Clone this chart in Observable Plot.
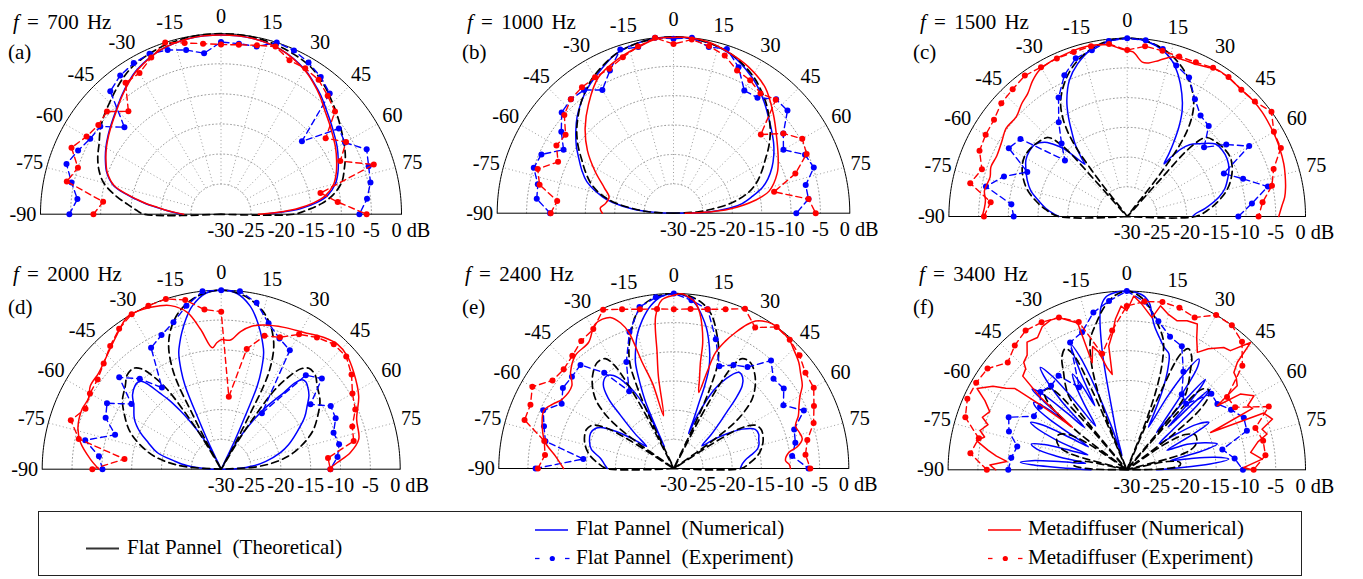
<!DOCTYPE html>
<html>
<head>
<meta charset="utf-8">
<script src="https://cdn.jsdelivr.net/npm/d3@7"></script>
<script src="https://cdn.jsdelivr.net/npm/@observablehq/plot@0.6"></script>
<style>
  html, body { margin: 0; padding: 0; background: #fff; }
  #wrap { position: relative; width: 1363px; height: 579px; overflow: hidden; color: #000; }
  .panel { position: absolute; }
  .ttl { position: absolute; white-space: pre; }
  #legend { position: absolute; left: 38px; top: 511px; width: 1264px; height: 65px; box-sizing: border-box; border: 1.5px solid #222; }
  .lt { position: absolute; white-space: pre; }
  #legsvg { position: absolute; left: 0; top: 0; }
</style>
</head>
<body>
<div id="wrap"></div>
<script>
// ---------------- data ----------------
const EXP_ANGLES = [-90,-84,-78,-72,-66,-60,-54,-48,-42,-36,-30,-24,-18,-12,-6,0,6,12,18,24,30,36,42,48,54,60,66,72,78,84,90];
const ANGLE_TICKS = [-90,-75,-60,-45,-30,-15,0,15,30,45,60,75];
const RADIAL_TICKS = [-30,-25,-20,-15,-10,-5];
const RINGS = [-25,-20,-15,-10,-5];
const SPOKES = [-75,-60,-45,-30,-15,0,15,30,45,60,75];
const FREQS = [700, 1000, 1500, 2000, 2400, 3400];
const PANEL_LABELS = ["(a)","(b)","(c)","(d)","(e)","(f)"];
const SERIES_NAMES = ["Flat Pannel  (Theoretical)","Flat Pannel  (Numerical)","Flat Pannel  (Experiment)","Metadiffuser (Numerical)","Metadiffuser (Experiment)"];

// (a) 700 Hz
const a_theory = [[-90,-30],[-90,-17.2],[-87,-15.8],[-84,-14.4],[-80,-12.2],[-75,-9.8],[-70,-8.4],[-65,-7.4],[-60,-6.6],[-55,-5.5],[-50,-4.6],[-45,-3.8],[-40,-2.9],[-35,-2.0],[-30,-1.3],[-20,-0.5],[-10,-0.1],[0,0],[10,-0.1],[20,-0.5],[30,-1.2],[35,-1.9],[40,-2.8],[45,-3.8],[50,-4.7],[55,-5.6],[60,-6.4],[65,-7.2],[70,-8.2],[75,-9.2],[80,-11.0],[84,-13.2],[87,-15.5],[90,-17.9],[90,-30]];
const a_flatNum = [[-90,-23.5],[-88,-22.2],[-86,-20.8],[-84,-19.2],[-82,-17.3],[-80,-15.6],[-78,-13.8],[-75,-11.5],[-70,-9.8],[-65,-8.8],[-60,-7.9],[-55,-7.1],[-50,-6.3],[-45,-5.4],[-40,-4.3],[-35,-3.2],[-30,-2.2],[-20,-0.9],[-10,-0.3],[0,-0.2],[10,-0.3],[20,-0.9],[30,-2.2],[35,-3.2],[40,-4.2],[45,-5.3],[50,-6.2],[55,-7.0],[60,-7.7],[65,-8.5],[70,-9.3],[75,-10.3],[80,-12.0],[83,-13.9],[86,-16.8],[88,-19.8],[90,-22.8]];
const a_metaNum = [[-90,-23.8],[-88,-22.5],[-86,-21],[-84,-19.5],[-82,-17.5],[-80,-15.8],[-78,-14.0],[-75,-11.6],[-70,-9.9],[-65,-8.9],[-60,-8.0],[-55,-7.2],[-50,-6.4],[-45,-5.5],[-40,-4.4],[-35,-3.3],[-30,-2.3],[-20,-0.9],[-10,-0.3],[0,-0.2],[10,-0.3],[20,-0.9],[30,-2.3],[35,-3.3],[40,-4.4],[45,-5.6],[50,-6.5],[55,-7.3],[60,-8.0],[65,-8.8],[70,-9.6],[75,-10.6],[80,-12.4],[83,-14.5],[86,-17.5],[88,-20.5],[90,-23.8]];
const a_flatExp = [-4.8,-6.0,-4.6,-3.0,-4.0,-4.9,-5.2,-8.4,-2.5,-1.5,-1.0,-0.8,-1.3,-2.1,-3.1,-1.4,-1.5,-1.5,0,-0.2,-0.9,-1.8,-3.0,-11.9,-5.8,-6.2,-3.5,-4.2,-4.6,-5.6,-7.0];
const a_metaExp = [-8.8,-10.3,-3.8,-5.0,-2.8,-4.2,-4.8,-4.5,-7.0,-3.0,-2.9,-1.5,0,-0.9,-1.5,-1.8,-1.7,-1.3,-0.7,-2.0,-2.0,-2.4,-3.5,-4.5,-8.5,-6.0,-8.3,-3.3,-13.1,-10.5,-5.8];

// (b) 1000 Hz
const b_theory = [[-90,-30],[-87,-26],[-84,-23.5],[-80,-20],[-75,-17],[-70,-15],[-65,-13.5],[-60,-12],[-55,-10.2],[-50,-8.5],[-45,-7],[-40,-5.5],[-35,-4.2],[-30,-3.0],[-20,-1.2],[-10,-0.3],[0,0],[10,-0.3],[20,-1.2],[30,-3.0],[35,-4.2],[40,-5.5],[45,-7],[50,-8.5],[55,-10.2],[60,-12],[65,-13.5],[70,-15],[75,-17],[80,-20],[84,-23.5],[87,-26],[90,-30]];
const b_flatNum = [[-90,-30],[-87,-26.5],[-84,-23],[-80,-19.5],[-77,-17.6],[-70,-14.3],[-65,-12.8],[-60,-11.4],[-55,-9.8],[-50,-8.3],[-45,-6.8],[-40,-5.5],[-35,-4.3],[-30,-3.3],[-20,-1.2],[-10,-0.3],[0,0],[10,-0.3],[20,-1.3],[30,-3.3],[35,-4.5],[40,-5.8],[45,-7.1],[50,-8.2],[55,-9.2],[60,-10.3],[65,-11.5],[70,-12.9],[74,-14.3],[78,-16.3],[82,-18.2],[85,-20.5],[88,-24],[90,-30]];
const b_metaNum = [[-90,-17.9],[-86,-17.5],[-82,-18.3],[-76,-18.7],[-70,-17.5],[-62,-14.9],[-54,-11.9],[-46,-9.1],[-38,-6.5],[-29,-3.6],[-19,-2.0],[-10,-0.8],[-5,-0.1],[0,-0.1],[5,0],[12,-0.3],[20,-1.2],[27,-2.0],[36,-3.5],[45,-6.0],[55,-8.5],[63,-10.0],[69,-11.1],[77,-13.3],[81,-15.9],[86,-20.6],[88,-24],[90,-28]];
const b_flatExp = [-9.0,-6.6,-6.4,-5.0,-5.4,-8.4,-6.4,-4.4,-3.9,-4.1,-5.8,-3.4,-0.7,-1.1,0,-0.3,0,-1.1,-0.6,-2.8,-5.9,-5.7,-3.9,-3.9,-6.9,-8.4,-5.5,-4.9,-7.0,-6.9,-9.1];
const b_metaExp = [-9.1,-10.1,-6.7,-5.7,-8.5,-7.0,-7.3,-5.0,-3.9,-3.5,-3.3,-3.1,-2.1,-1.0,0,-1.2,-0.3,-0.9,-1.8,-3.4,-3.9,-4.8,-4.0,-10.0,-6.9,-4.7,-5.2,-8.2,-12.5,-6.9,-5.8];

// (c) 1500 Hz
const c_theory = [[-90,-30],[-90,-18.5],[-85,-16.2],[-80,-14.3],[-75,-12.6],[-70,-11.4],[-65,-10.5],[-60,-10.0],[-55,-10.1],[-50,-10.5],[-45,-11.2],[-42.5,-14],[-41.8,-22],[-40,-30],[-38,-23],[-37.3,-19],[-36.5,-15.5],[-35,-12.5],[-33,-10],[-30,-7.6],[-25,-5.1],[-20,-3.2],[-15,-1.8],[-10,-0.8],[-5,-0.2],[0,0],[5,-0.2],[10,-0.8],[15,-1.8],[20,-3.2],[25,-5.1],[30,-7.6],[33,-10],[35,-12.5],[36.5,-15.5],[37.3,-19],[38,-23],[40,-30],[41.8,-22],[42.5,-14],[45,-11.2],[50,-10.5],[55,-10.1],[60,-10.0],[65,-10.5],[70,-11.4],[75,-12.6],[80,-14.3],[85,-16.2],[90,-18.5],[90,-30]];
const c_flatNum = [[-90,-18.5],[-85,-16.5],[-80,-14.9],[-75,-13.2],[-70,-12.1],[-65,-11.2],[-61,-10.5],[-56,-10.2],[-52,-10.3],[-48,-11.3],[-46,-12.4],[-43,-14.5],[-40.5,-17.5],[-39,-18.7],[-38,-17.5],[-35.5,-14.8],[-33.6,-13.3],[-30.5,-10.5],[-27.5,-8.0],[-23,-5.1],[-18,-3.0],[-12,-1.2],[-6,-0.3],[0,0],[6,-0.3],[12,-1.4],[16,-2.7],[20,-4.8],[24,-7.4],[27.4,-9.9],[30,-12.6],[32,-15.2],[33.6,-17.3],[35,-19.2],[36.5,-17.5],[38.5,-15.5],[41,-14.0],[44.6,-12.8],[50.6,-10.8],[55,-10.5],[60,-10.6],[65,-11.1],[68.7,-11.8],[74,-12.9],[78,-14.2],[84,-16.8],[87.7,-18.5],[90,-19]];
const c_metaNum = [[-90,-5.6],[-87,-5.9],[-83.6,-6.0],[-80,-5.6],[-78,-5.7],[-74,-6.0],[-70,-5.6],[-65,-5.8],[-59,-5.4],[-54,-4.8],[-48,-4.9],[-43,-4.0],[-39,-3.4],[-35,-2.2],[-31,-1.3],[-26,-0.9],[-22,-0.8],[-16,-0.6],[-11.6,-0.6],[-6,-1.0],[-2,-1.8],[2,-2.3],[5.6,-3.9],[8,-3.9],[11.5,-3.2],[15.8,-2.1],[20,-2.0],[24,-1.9],[28,-1.5],[32,-1.0],[37,-1.1],[42.4,-1.3],[47,-1.2],[52.3,-1.3],[57,-1.5],[61.9,-1.7],[66,-1.9],[71.4,-2.2],[75,-2.5],[79.5,-2.9],[83,-3.3],[86,-3.9],[90,-4.5]];
const c_flatExp = [-10.9,-10.4,-5.7,-8.2,-11.6,-7.0,-7.8,-15.9,-13.5,-10.4,-6.9,-4.0,-2.0,-1.4,-0.3,0,-0.2,-1.2,-3.3,-4.4,-7.2,-9.0,-9.5,-12.6,-9.4,-6.3,-12.2,-9.5,-5.8,-8.9,-11.3];
const c_metaExp = [-5.9,-6.9,-3.0,-4.3,-2.8,-2.5,-2.3,-1.5,-1.2,-0.7,-1.0,-0.9,-0.9,-0.7,-0.8,-2.0,-1.2,-1.5,-1.7,-1.6,-1.1,-1.0,-1.3,-1.1,0,-1.5,-1.7,-4.1,-5.1,-7.1,-7.9];

// (d) 2000 Hz
const d_theory = [[-90,-30],[-86,-24],[-82,-20.5],[-77,-17.5],[-68,-13.6],[-60,-11.2],[-55,-9.8],[-49,-8.7],[-45,-7.7],[-41,-7.6],[-38.5,-8.5],[-36,-11],[-34,-14],[-32.5,-19],[-31,-24],[-30,-30],[-28.5,-25],[-27.5,-19],[-27,-14.3],[-26,-11.5],[-24,-8.5],[-22,-6.6],[-19,-4.6],[-15,-2.7],[-10,-1.2],[-5,-0.3],[0,0],[5,-0.3],[10,-1.2],[15,-2.7],[19,-4.6],[22,-6.6],[24,-8.5],[26,-11.5],[27,-14.3],[27.5,-19],[28.5,-25],[30,-30],[31,-24],[32.5,-19],[34,-14],[36,-11],[38.5,-8.5],[41,-7.6],[45,-7.7],[49,-8.7],[55,-9.8],[60,-11.2],[68,-13.6],[77,-17.5],[82,-20.5],[86,-24],[90,-30]];
const d_flatNum = [[-90,-30],[-88,-27.5],[-84,-24.2],[-80,-22],[-75.4,-18.9],[-70,-17],[-65.6,-15.1],[-60,-13.2],[-54,-11.9],[-50,-10.6],[-46,-9.9],[-44,-9.8],[-42,-10.2],[-40.5,-11.5],[-39,-13.5],[-37,-15.5],[-35,-18],[-33,-20.5],[-31,-23],[-28,-27],[-26.5,-30],[-25.4,-25],[-24.4,-20.8],[-23.4,-14.8],[-22,-12],[-20,-9.2],[-18,-7.6],[-16,-6.1],[-13,-4],[-10,-2.2],[-5,-0.4],[0,0],[5,-0.4],[10,-2.2],[13,-4],[16,-6.1],[18,-7.6],[20,-9.2],[22,-12],[23.4,-14.8],[24.4,-20.8],[25.4,-25],[26.5,-30],[28,-27],[31,-23],[33,-20.5],[35.4,-17.7],[37.5,-15.5],[39.3,-13.4],[40.5,-11],[42,-9.8],[44,-9.6],[46,-9.9],[50,-10.8],[53.6,-12.1],[58,-13.5],[64,-15.9],[70,-18],[74.3,-19.7],[80,-22.4],[84,-24.5],[88,-27.5],[90,-30]];
const d_metaNum = [[-90,-9.5],[-85.6,-8.0],[-79.3,-6.0],[-73.8,-5.0],[-66.7,-4.6],[-62,-4.8],[-57.5,-4.0],[-52,-3.9],[-47.7,-3.4],[-43,-2.6],[-38.7,-1.7],[-31.5,0],[-25.8,-0.2],[-21,-0.7],[-17.2,-1.3],[-12.2,-3.1],[-8.4,-6.3],[-4.2,-9.6],[-2,-8.8],[0,-8.3],[4.1,-8.3],[8,-6.7],[12,-5.5],[16.5,-4.8],[23.9,-4.0],[31.2,-3.2],[38,-2.0],[42.9,-1.4],[48,-1.6],[53.9,-2.5],[62,-3.9],[69.7,-5.8],[77.7,-6.4],[82.7,-8.2],[86.7,-10.5],[90,-12.0]];
const d_flatExp = [-10.1,-9.4,-6.7,-11.3,-8.8,-7.9,-11.4,-7.0,-9.6,-13.1,-6.5,-5.4,-4.1,-2.0,0,0,0,-1.5,-4.3,-6.0,-7.0,-18.4,-8.8,-7.3,-11.5,-8.8,-9.0,-10.2,-9.8,-10.4,-11.7];
const d_metaExp = [-8.4,-13.7,-5.6,-3.5,-5.1,-4.6,-4.4,-3.5,-2.2,-0.9,0,0,0,-1.0,-3.1,-3.6,-17.8,-9.4,-6.5,-5.8,-3.9,-2.7,-1.8,-1.8,-3.0,-4.6,-5.4,-6.9,-7.3,-12.0,-11.7];

// (e) 2400 Hz
const e_theory = [[-90,-30],[-90,-18.5],[-86,-17],[-81,-15.4],[-76,-14.4],[-71,-13.8],[-66,-13.6],[-62,-14.2],[-59,-16.5],[-57.5,-21],[-56,-30],[-54.5,-22],[-53,-17],[-51,-14.3],[-48.5,-12.1],[-45,-10.3],[-41,-8.8],[-36,-7.6],[-32,-7.8],[-30,-9.5],[-28.5,-14],[-27.5,-20],[-26.5,-30],[-25.3,-22],[-24.8,-17],[-24,-14],[-23,-11],[-21,-8.5],[-18,-6.0],[-14,-3.0],[-10,-1.3],[-5,-0.3],[0,0],[5,-0.3],[10,-1.3],[14,-3.0],[18,-6.0],[21,-8.5],[23,-11],[24,-14],[24.8,-17],[25.3,-22],[26.5,-30],[27.5,-20],[28.5,-14],[30,-9.5],[32,-7.8],[36,-7.6],[41,-8.8],[45,-10.3],[48.5,-12.1],[51,-14.3],[53,-17],[54.5,-22],[56,-30],[57.5,-21],[59,-16.5],[62,-14.2],[66,-13.6],[71,-13.8],[76,-14.4],[81,-15.4],[86,-17],[90,-18.5],[90,-30]];
const e_flatNum = [[-90,-18.6],[-86,-18],[-82,-17.3],[-77,-15.5],[-72,-14.8],[-67,-14.5],[-63,-14.9],[-60,-16],[-57,-18.5],[-54,-21.5],[-51,-24],[-48,-21],[-45,-17],[-43,-13.5],[-40,-11.2],[-36,-10.4],[-33,-11],[-30,-12.8],[-27,-15.5],[-25,-18.5],[-23.8,-24],[-23.3,-26],[-23,-17.7],[-21.5,-14],[-19.9,-10.7],[-17.5,-8.3],[-15.5,-6.4],[-12,-4],[-8,-1.8],[-4,-0.4],[0,0],[5,-0.6],[8,-1.8],[10.5,-3.4],[13,-5.2],[15,-7.0],[17.5,-9.5],[19.4,-11.9],[20.5,-15],[21,-17.9],[22,-21],[22.8,-23.5],[24,-20],[27,-15],[30,-12.3],[34,-10.1],[37,-10.4],[39.6,-11.6],[41.6,-14.1],[43,-16.5],[44.4,-18.2],[48,-21.5],[51,-23.8],[54,-21.5],[57,-19],[60,-16.5],[64.3,-14.5],[68,-14.3],[71,-14.6],[74,-14.8],[77,-15.3],[80,-16.5],[83,-17.6],[86,-18.2],[90,-18.6]];
const e_metaNum = [[-90,-11.1],[-84,-9.6],[-78.5,-7.5],[-73.4,-6.5],[-66,-5.6],[-62,-6.5],[-58,-7.5],[-51,-7.5],[-47,-5.8],[-41,-4.3],[-34,-3.9],[-28.5,-1.8],[-22.8,-1.9],[-20,-3.5],[-18.3,-5.4],[-16.6,-11.0],[-14,-15],[-11,-20.8],[-9.5,-14],[-8.2,-9.9],[-6.8,-3.7],[-4,-1.0],[0,-0.3],[2.7,0],[5,-0.5],[7.4,-1.3],[9.5,-3],[11.2,-5.1],[13,-8],[14.1,-11.3],[16,-14],[18.2,-16.3],[19,-12.5],[19.8,-8.9],[22,-6.5],[24.4,-4.4],[27,-2.3],[29,-1.1],[31,-0.5],[34.3,0],[38,-0.1],[41.6,-0.3],[45,-1.0],[49.7,-1.9],[53,-2.8],[57.2,-3.8],[60,-5.0],[63.4,-6.0],[67,-6.8],[70.7,-7.9],[74,-7.6],[77,-7.4],[80,-8.5],[82.1,-10.1],[86,-10.8],[88,-10.2],[90,-10.0]];
const e_flatExp = [-6.3,-14.4,-7.5,-6.6,-5.5,-7.8,-6.5,-6.5,-6.1,-9.7,-14.7,-10.0,-5.4,-1.7,-0.5,0,-1.0,-2.1,-6.7,-10.8,-9.5,-8.5,-5.1,-7.0,-6.7,-8.3,-5.6,-8.3,-8.7,-9.6,-6.9];
const e_metaExp = [-6.7,-7.8,-7.3,-3.1,-3.1,-2.0,-4.3,-4.6,-4.0,-3.0,-2.4,-0.2,-1.3,-2.1,-2.5,-2.7,-2.5,-2.1,-1.3,0,-2.1,0,-0.3,-1.0,-2.1,-2.3,-3.7,-4.8,-6.6,-7.3,-6.6];

// (f) 3400 Hz
const f_theory = [[-90,-30],[-88,-23],[-85,-21],[-82,-21],[-78.5,-23],[-76,-30],[-74,-20],[-71,-18],[-67,-17.2],[-63,-17.1],[-59,-18.5],[-56,-22],[-54,-30],[-52.5,-20],[-50.5,-14],[-48,-11.5],[-45.5,-10.8],[-43,-11.5],[-41.5,-18],[-40.5,-30],[-39.5,-20],[-38.4,-14.5],[-36,-12.5],[-33,-10.5],[-30,-8.2],[-27,-7.2],[-25,-8.5],[-23.5,-16],[-22.5,-30],[-21.5,-21],[-20,-15],[-18,-10.5],[-15.5,-7.2],[-12,-5],[-8,-2.5],[-4,-0.7],[0,0],[4,-0.7],[8,-2.5],[12,-5],[15.5,-7.2],[18,-10.5],[20,-15],[21.5,-21],[22.5,-30],[23.5,-16],[25,-8.5],[27,-7.2],[30,-8.2],[33,-10.5],[36,-12.5],[38.4,-14.5],[39.5,-20],[40.5,-30],[41.5,-18],[43,-11.5],[45.5,-10.8],[48,-11.5],[50.5,-14],[52.5,-20],[54,-30],[56,-22],[59,-18.5],[63,-17.1],[67,-17.2],[71,-18],[74,-20],[76,-30],[78.5,-23],[82,-21],[85,-21],[88,-23],[90,-30]];
const f_flatNum = [[-90,-24],[-88.5,-20],[-87,-14],[-86,-12.1],[-84.5,-14],[-83,-19],[-81,-23],[-79,-18],[-77,-14.5],[-74.9,-13.4],[-73,-15.5],[-71,-20],[-69,-23],[-67,-17],[-65,-13],[-63.8,-12],[-62,-14],[-60.5,-19],[-59,-22.5],[-57,-15],[-55.5,-11.5],[-54,-10.7],[-52.5,-13],[-51.5,-17],[-50.5,-12],[-49.6,-9.1],[-48,-11],[-46.5,-16],[-45,-20],[-43.5,-14],[-41.5,-9],[-40.2,-7.5],[-38.5,-10],[-37,-16],[-35.5,-21],[-33,-17],[-31,-13],[-29.5,-11.5],[-28,-14],[-26.5,-18],[-25.5,-12],[-24,-7],[-22.5,-9.5],[-21,-15],[-19.5,-22],[-18.4,-27.5],[-16,-24],[-14.4,-21.2],[-11.6,-9.3],[-9.3,-2.7],[-7,-0.8],[-4,-0.2],[0,0],[3,-0.2],[6,-0.8],[8,-2],[9.3,-3.8],[11,-5.5],[14,-7.2],[17,-8.5],[20,-9.3],[22,-11.5],[24,-15],[26,-20],[27,-22],[29,-16],[31,-11],[33,-7.8],[34.5,-9],[36,-14],[37.5,-20],[38.5,-22],[40,-14],[41,-9.9],[42.5,-13],[44,-20],[45,-14],[46,-10.5],[47.5,-14],[49,-20],[51,-23],[54,-20],[57,-16],[60,-14.1],[62,-18],[64,-22.5],[67,-19],[71,-16],[74,-14.2],[76,-17],[78,-22.5],[80,-19],[82,-15],[84,-12.8],[86,-16],[88,-22],[90,-25]];
const f_metaNum = [[-90,-8.0],[-88,-7],[-86,-9.8],[-84,-8],[-82,-6.5],[-79,-4.3],[-77,-5.5],[-75,-4.5],[-72,-5.5],[-70,-4.2],[-67,-5],[-64,-3.5],[-61.5,-1.4],[-58,-3.5],[-56,-5.5],[-54,-6.8],[-53,-12],[-52,-18.4],[-50,-11],[-48,-6.5],[-45,-6],[-43.8,-5.0],[-41,-4.5],[-38,-2.8],[-34,-3.2],[-30.6,-2.1],[-27,-1.8],[-24,-2.0],[-21,-3.2],[-18.5,-4.0],[-17.9,-11.1],[-15.5,-8.5],[-13.4,-9.7],[-11,-12.5],[-8.7,-13.8],[-8.3,-9],[-6,-7],[-4.3,-4.6],[-2,-2.5],[0,-3.3],[2.3,-0.8],[5,-2],[9.4,-4.1],[11.6,-1.9],[15,-3],[18.7,-3.6],[22,-3],[25.8,-2.8],[28,-5],[31,-7.0],[34,-5.5],[38.4,-3.8],[41,-3.5],[44.2,-0.2],[45.8,-4.1],[47.7,-5.7],[50,-6],[52.7,-6.7],[54.7,-11.4],[56.3,-7.1],[59.8,-5.3],[62,-7],[64,-6.5],[66,-14.6],[67.5,-5.1],[70.8,-4.1],[73.3,-6.3],[75.7,-5.7],[78,-7.5],[82,-9.0],[85.5,-7.2],[88.9,-10.4],[90,-9]];
const f_flatExp = [-10.1,-10.5,-11.2,-9.2,-8.3,-12.0,-12.0,-10.5,-11.0,-10.5,-14.0,-6.6,-5.7,-3.0,-1.5,0,-1.6,-4.5,-6.5,-7.3,-11.0,-14.3,-15.1,-10.9,-11.2,-9.8,-8.5,-8.8,-13.6,-11.8,-10.5];
const f_metaExp = [-6.5,-3.6,-4.6,-1.5,-0.7,-0.8,-1.1,-3.1,-1.9,-1.1,-1.4,-2.0,-3.9,-10.1,-6.5,-2.5,-1.6,-1.2,-1.4,-2.0,0,0,-1.1,-3.9,-9.2,-9.0,-3.9,-7.3,-6.6,-6.6,-8.7];

// ---------------- layout ----------------
const LAYOUT = [
  {left:0,   top:0,   cx:220.5,  cy:213.7, R:180.5, tx:13,  ty:22,  lx:8,   ly:52},
  {left:454, top:0,   cx:673.0,  cy:212.7, R:176.3, tx:467, ty:22,  lx:462, ly:52},
  {left:908, top:0,   cx:1126.7, cy:216.0, R:178.3, tx:920, ty:22,  lx:913, ly:52},
  {left:0,   top:252, cx:220.7,  cy:468.7, R:179.0, tx:13,  ty:274, lx:8,   ly:307},
  {left:454, top:252, cx:673.3,  cy:468.0, R:175.0, tx:465, ty:274, lx:462, ly:307},
  {left:908, top:252, cx:1126.3, cy:469.3, R:178.7, tx:919, ty:274, lx:913, ly:307}
];
const DATA = [
  {theory:a_theory, flatNum:a_flatNum, metaNum:a_metaNum, flatExp:a_flatExp, metaExp:a_metaExp, jag:false},
  {theory:b_theory, flatNum:b_flatNum, metaNum:b_metaNum, flatExp:b_flatExp, metaExp:b_metaExp, jag:false},
  {theory:c_theory, flatNum:c_flatNum, metaNum:c_metaNum, flatExp:c_flatExp, metaExp:c_metaExp, jag:false},
  {theory:d_theory, flatNum:d_flatNum, metaNum:d_metaNum, flatExp:d_flatExp, metaExp:d_metaExp, jag:false},
  {theory:e_theory, flatNum:e_flatNum, metaNum:e_metaNum, flatExp:e_flatExp, metaExp:e_metaExp, jag:false},
  {theory:f_theory, flatNum:f_flatNum, metaNum:f_metaNum, flatExp:f_flatExp, metaExp:f_metaExp, jag:true}
];
const BLUE = "#0000ff", RED = "#ff0000", GRID = "#8f8f8f";

// ---------------- fonts: serif, sized to the reference text widths ----------------
const FAMILY = '"Liberation Serif", "DejaVu Serif", "Noto Serif", serif';
const ctx = document.createElement("canvas").getContext("2d");
function textW(t, size, style) { ctx.font = (style || "") + " " + size + "px " + FAMILY; return ctx.measureText(t).width; }
function fit(t, target, lo, hi) { const s = 20 * target / textW(t, 20); return Math.max(lo, Math.min(hi, s)); }
const TICK_FS = fit("-30", 27, 15, 21);
const TITLE_FS = fit("(a)", 25, 15, 21);
const LEG_FS = fit("Metadiffuser (Experiment)", 235, 14, 21);
const ZERO_W = textW("0", TICK_FS);

// polar -> unit cartesian (0 dB = outer edge, -30 dB = centre)
const toXY = (deg, db) => {
  const r = Math.max(0, (db + 30) / 30), t = deg * Math.PI / 180;
  return [r * Math.sin(t), r * Math.cos(t)];
};
const X = d => toXY(d[0], d[1])[0];
const Y = d => toXY(d[0], d[1])[1];

function drawPanel(p, d) {
  const x0 = p.cx - p.left, y0 = p.cy - p.top;
  const arc = d3.range(-90, 90.01, 1);
  const rings = RINGS.flatMap(v => arc.map(a => [a, v, v]));
  const lab = 1 + 17.5 / p.R;
  const flatRows = EXP_ANGLES.map((a, i) => [a, d.flatExp[i]]);
  const metaRows = EXP_ANGLES.map((a, i) => [a, d.metaExp[i]]);
  return Plot.plot({
    width: 454, height: 252, margin: 0,
    x: {domain: [-1, 1], range: [x0 - p.R, x0 + p.R], axis: null},
    y: {domain: [0, 1], range: [y0, y0 - p.R], axis: null},
    style: {fontFamily: FAMILY, fontSize: TICK_FS + "px", background: "transparent", overflow: "visible"},
    marks: [
      Plot.line(rings, {x: X, y: Y, z: d => d[2], stroke: GRID, strokeWidth: 0.9, strokeDasharray: "1,2.6"}),
      Plot.link(SPOKES, {x1: a => toXY(a, -25)[0], y1: a => toXY(a, -25)[1], x2: a => toXY(a, 0)[0], y2: a => toXY(a, 0)[1], stroke: GRID, strokeWidth: 0.9, strokeDasharray: "1,2.6"}),
      Plot.line(arc.map(a => [a, 0]), {x: X, y: Y, stroke: "black", strokeWidth: 1}),
      Plot.link([0], {x1: () => -1, y1: () => 0, x2: () => 1, y2: () => 0, stroke: "black", strokeWidth: 1}),
      Plot.line(d.flatNum, {x: X, y: Y, stroke: BLUE, strokeWidth: 1.5, curve: "catmull-rom"}),
      Plot.line(d.theory, {x: X, y: Y, stroke: "black", strokeWidth: 1.7, strokeDasharray: "7,4.5", curve: "catmull-rom"}),
      Plot.line(flatRows, {x: X, y: Y, stroke: BLUE, strokeWidth: 1.4, strokeDasharray: "6,4"}),
      Plot.dot(flatRows, {x: X, y: Y, r: 3, fill: BLUE, stroke: "none"}),
      Plot.line(d.metaNum, {x: X, y: Y, stroke: RED, strokeWidth: 1.5, curve: d.jag ? "linear" : "catmull-rom"}),
      Plot.line(metaRows, {x: X, y: Y, stroke: RED, strokeWidth: 1.4, strokeDasharray: "6,4"}),
      Plot.dot(metaRows, {x: X, y: Y, r: 3, fill: RED, stroke: "none"}),
      Plot.text(ANGLE_TICKS, {x: a => lab * Math.sin(a * Math.PI / 180), y: a => lab * Math.cos(a * Math.PI / 180), text: a => String(a), fontSize: TICK_FS}),
      Plot.text(RADIAL_TICKS, {x: v => (v + 30) / 30, y: () => 0, dy: 16.5, text: v => String(v), fontSize: TICK_FS}),
      Plot.text(["0 dB"], {x: () => 1, y: () => 0, dx: -5 - ZERO_W / 2, dy: 16.5, textAnchor: "start", text: t => t, fontSize: TICK_FS})
    ]
  });
}

const wrap = document.getElementById("wrap");
wrap.style.fontFamily = FAMILY;
LAYOUT.forEach((p, i) => {
  const svg = drawPanel(p, DATA[i]);
  svg.classList.add("panel");
  svg.style.left = p.left + "px";
  svg.style.top = p.top + "px";
  wrap.appendChild(svg);
  const t = document.createElement("div");
  t.className = "ttl";
  t.style.fontSize = TITLE_FS + "px"; t.style.lineHeight = TITLE_FS + "px";
  t.style.left = p.tx + "px"; t.style.top = (p.ty - TITLE_FS / 2) + "px";
  t.style.wordSpacing = "3px";
  t.innerHTML = "<i>f</i> = " + FREQS[i] + " Hz";
  wrap.appendChild(t);
  const l = document.createElement("div");
  l.className = "ttl";
  l.style.fontSize = TITLE_FS + "px"; l.style.lineHeight = TITLE_FS + "px";
  l.style.left = p.lx + "px"; l.style.top = (p.ly - TITLE_FS / 2) + "px";
  l.textContent = PANEL_LABELS[i];
  wrap.appendChild(l);
});

// ---------------- legend ----------------
const leg = document.createElement("div");
leg.id = "legend";
wrap.appendChild(leg);
const LX = 38, LY = 511;
const ns = "http://www.w3.org/2000/svg";
const ls = document.createElementNS(ns, "svg");
ls.setAttribute("id", "legsvg"); ls.setAttribute("width", 1262); ls.setAttribute("height", 63);
function seg(x1, x2, y, color, w) {
  const e = document.createElementNS(ns, "line");
  e.setAttribute("x1", x1 - LX); e.setAttribute("x2", x2 - LX);
  e.setAttribute("y1", y - LY); e.setAttribute("y2", y - LY);
  e.setAttribute("stroke", color); e.setAttribute("stroke-width", w);
  ls.appendChild(e);
}
function dot(x, y, color) {
  const e = document.createElementNS(ns, "circle");
  e.setAttribute("cx", x - LX); e.setAttribute("cy", y - LY); e.setAttribute("r", 2.6);
  e.setAttribute("fill", color); ls.appendChild(e);
}
const LEG_ITEMS = [
  {name: SERIES_NAMES[0], sx: 85,  tx: 126,  y: 547.5, color: "#333", exp: false},
  {name: SERIES_NAMES[1], sx: 534, tx: 575,  y: 529,   color: BLUE,  exp: false},
  {name: SERIES_NAMES[2], sx: 534, tx: 575,  y: 557.5, color: BLUE,  exp: true},
  {name: SERIES_NAMES[3], sx: 987, tx: 1027, y: 529,   color: RED,   exp: false},
  {name: SERIES_NAMES[4], sx: 987, tx: 1027, y: 557.5, color: RED,   exp: true}
];
LEG_ITEMS.forEach(it => {
  if (it.exp) {
    seg(it.sx, it.sx + 4.5, it.y, it.color, 1.3);
    seg(it.sx + 30, it.sx + 34.5, it.y, it.color, 1.3);
    dot(it.sx + 17.3, it.y, it.color);
  } else {
    seg(it.sx, it.sx + 33, it.y, it.color, it.color === "#333" ? 2 : 1.4);
  }
  const s = document.createElement("div");
  s.className = "lt";
  s.style.fontSize = LEG_FS + "px"; s.style.lineHeight = LEG_FS + "px";
  s.style.left = (it.tx - LX) + "px";
  s.style.top = (it.y - LY - LEG_FS / 2 - 1.5) + "px";
  s.textContent = it.name;
  leg.appendChild(s);
});
leg.appendChild(ls);
</script>
</body>
</html>
